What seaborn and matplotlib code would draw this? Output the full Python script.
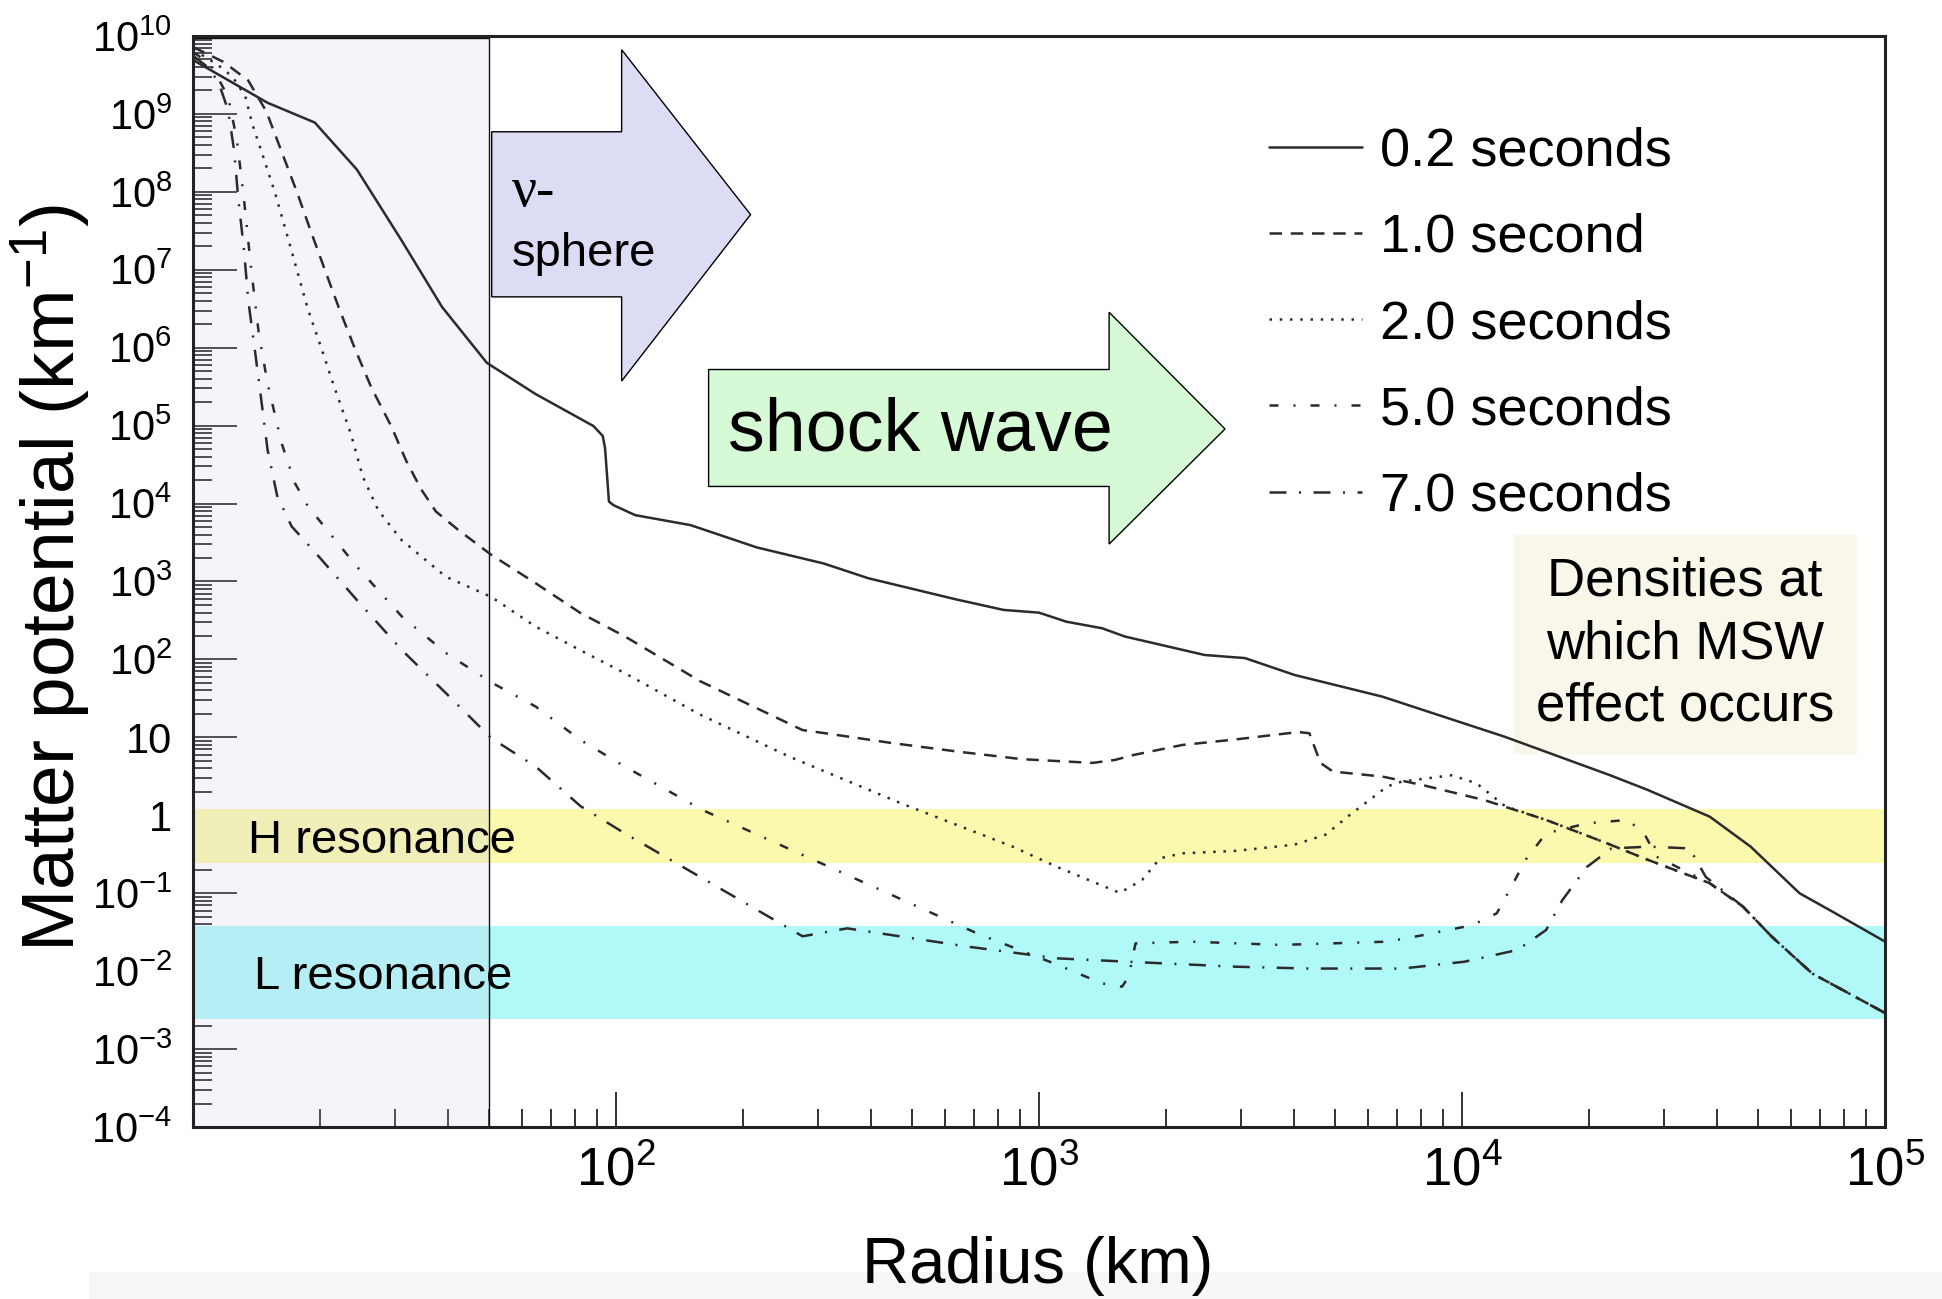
import numpy as np
import pandas as pd
import matplotlib
matplotlib.use('Agg')
import matplotlib.pyplot as plt
from matplotlib.patches import Polygon, Rectangle
from matplotlib.ticker import LogLocator, NullFormatter
import seaborn as sns

# values: radius (km) and matter potential (km^-1)
labels = ['0.2 seconds', '1.0 second', '2.0 seconds', '5.0 seconds', '7.0 seconds']

radius_02 = [10, 15.0, 19.4, 24.4, 31.1, 38.8, 49.5, 64.4, 88.4, 93.0, 94.2, 96.2, 98.7, 111, 150, 215,
             310, 395, 637, 824, 1000, 1160, 1410, 1594, 2463, 3067, 4017, 6480, 12600, 22400, 27500,
             38500, 48100, 62800, 75100, 100000]
pot_02 = [4.92e9, 1.39e9, 7.75e8, 1.93e8, 2.39e7, 3.32e6, 6.39e5, 2.56e5, 9.89e4, 7.38e4, 5.12e4, 1.06e4,
          9.51e3, 7.10e3, 5.29e3, 2.74e3, 1.70e3, 1.10e3, 589, 432, 398, 305, 251, 197, 114, 104, 63.2,
          33.3, 10.2, 3.26, 2.11, 0.96, 0.396, 0.0997, 0.058, 0.0239]

radius_10 = [10, 11.8, 13.5, 14.9, 16.3, 17.6, 19.0, 20.5, 22.2, 24.1, 26.4, 29.4, 31.9, 34.6, 37.5, 42.4,
             50.7, 64.6, 82.4, 105, 158, 276, 312, 449, 646, 911, 1338, 1511, 1672, 2182, 2925, 4099,
             4355, 4627, 4950, 6480, 8098, 11270, 15790, 22030, 27550, 38440, 46110, 53850, 67250, 100000]
pot_10 = [7.22e9, 4.65e9, 2.69e9, 1.08e9, 2.99e8, 9.98e7, 3.09e7, 9.95e6, 3.08e6, 9.92e5, 3.07e5, 9.89e4,
          3.55e4, 1.53e4, 7.92e3, 4.57e3, 2.20e3, 948, 394, 197, 52.6, 12.4, 11.3, 8.45, 6.54, 5.25, 4.70,
          5.13, 5.94, 7.99, 9.43, 11.7, 11.3, 4.70, 3.64, 3.14, 2.43, 1.57, 0.873, 0.436, 0.267, 0.135,
          0.0674, 0.0280, 0.00934, 0.0029]

radius_20 = [10, 11.4, 12.4, 13.3, 13.8, 14.6, 15.6, 16.6, 17.6, 18.7, 20.1, 21.6, 23.6, 25.2, 27.4, 31.1,
             39.6, 50.7, 64.6, 82.4, 105, 158, 257, 471, 866, 1104, 1552, 1752, 1932, 2182, 2925, 4017,
             4753, 5476, 6660, 7220, 9456, 10820, 12640, 15790, 22030, 27550, 38440, 46110, 53850, 67250,
             100000]
pot_20 = [6.71e9, 4.33e9, 3.00e9, 1.67e9, 7.47e8, 2.99e8, 9.98e7, 3.09e7, 9.95e6, 3.08e6, 9.92e5, 3.07e5,
          7.94e4, 2.21e4, 8.21e3, 3.41e3, 1.15e3, 634, 263, 131, 66.5, 19.6, 5.65, 1.43, 0.396, 0.217,
          0.101, 0.148, 0.281, 0.325, 0.350, 0.420, 0.563, 1.05, 2.35, 2.72, 3.26, 2.57, 1.31, 0.873,
          0.436, 0.267, 0.135, 0.0674, 0.0280, 0.00934, 0.0029]

radius_50 = [10, 11.0, 12.1, 12.7, 13.2, 13.7, 14.3, 15.0, 16.2, 17.4, 18.7, 24.4, 31.2, 39.7, 50.7, 64.6,
             82.4, 105, 160, 305, 713, 1104, 1408, 1571, 1629, 1690, 2290, 3724, 6660, 8086, 10570, 12080,
             13210, 14120, 15790, 19720, 24640, 26940, 28830, 38440, 46110, 53850, 67250, 100000]
pot_50 = [6.24e9, 4.33e9, 1.67e9, 4.64e8, 7.87e7, 1.11e7, 1.54e6, 3.50e5, 5.93e4, 1.84e4, 9.17e3, 1.55e3,
          353, 120, 50.7, 24.8, 9.25, 4.21, 1.17, 0.243, 0.0306, 0.0121, 0.00697, 0.00632, 0.00849, 0.0227,
          0.0239, 0.0217, 0.0239, 0.0290, 0.0389, 0.0553, 0.134, 0.267, 0.586, 0.788, 0.873, 0.586, 0.294,
          0.135, 0.0674, 0.0280, 0.00934, 0.0029]

radius_70 = [10, 10.9, 11.5, 12.1, 12.5, 12.8, 13.2, 13.5, 14.0, 14.5, 15.0, 15.8, 17.1, 19.2, 24.4, 31.2,
             39.7, 50.7, 64.6, 82.4, 105, 158, 276, 352, 680, 1104, 1627, 2925, 4325, 7220, 10120, 13520,
             15790, 17240, 19720, 22560, 27630, 34510, 37670, 46110, 53850, 67250, 100000]
pot_70 = [5.59e9, 3.88e9, 2.50e9, 1.12e9, 3.46e8, 7.87e7, 1.79e7, 4.13e6, 9.36e5, 2.13e5, 4.93e4, 1.27e4,
          5.10e3, 2.55e3, 578, 131, 36.5, 9.77, 4.21, 1.31, 0.584, 0.162, 0.0280, 0.0354, 0.0206, 0.0146,
          0.0132, 0.0114, 0.0108, 0.0108, 0.0132, 0.0187, 0.0336, 0.0809, 0.217, 0.376, 0.396, 0.376,
          0.162, 0.0674, 0.0280, 0.00934, 0.0029]

nu_sphere_radius = 50
h_band = (0.243, 1.21)
l_band = (0.0024, 0.0375)

xtick_vals = [1e2, 1e3, 1e4, 1e5]
xtick_labels = ['$10^{2}$', '$10^{3}$', '$10^{4}$', '$10^{5}$']
ytick_vals = [10.0 ** k for k in range(-4, 11)]
ytick_labels = ['$10^{-4}$', '$10^{-3}$', '$10^{-2}$', '$10^{-1}$', '1', '10', '$10^{2}$', '$10^{3}$',
                '$10^{4}$', '$10^{5}$', '$10^{6}$', '$10^{7}$', '$10^{8}$', '$10^{9}$', '$10^{10}$']

series = [(radius_02, pot_02), (radius_10, pot_10), (radius_20, pot_20),
          (radius_50, pot_50), (radius_70, pot_70)]
df = pd.concat([pd.DataFrame({'radius': r, 'potential': v, 'time': lab})
                for (r, v), lab in zip(series, labels)], ignore_index=True)

# ROOT-like line styles (units of line width)
dash_map = {
    '0.2 seconds': '',
    '1.0 second': (5, 3.5),
    '2.0 seconds': (1, 3.1),
    '5.0 seconds': (3.6, 6.0, 0.8, 6.0),
    '7.0 seconds': (6.8, 5.0, 0.8, 5.0),
}

sns.set_theme(style='ticks')
plt.rcParams['font.family'] = ['Liberation Sans', 'DejaVu Sans']
plt.rcParams['mathtext.fontset'] = 'custom'
plt.rcParams['mathtext.rm'] = 'Liberation Sans'
plt.rcParams['mathtext.it'] = 'Liberation Sans:italic'
plt.rcParams['mathtext.bf'] = 'Liberation Sans:bold'
plt.rcParams['text.color'] = 'black'
plt.rcParams['axes.labelcolor'] = 'black'
plt.rcParams['xtick.color'] = 'black'
plt.rcParams['ytick.color'] = 'black'

fig = plt.figure(figsize=(19.42, 12.99), dpi=100)
ax = fig.add_axes([0.0994, 0.1324, 0.8713, 0.8399])
ax.set_xscale('log')
ax.set_yscale('log')

# resonance bands and the neutrino-sphere region
ax.axhspan(*h_band, color='#fbf9ad', lw=0, zorder=1)
ax.axhspan(*l_band, color='#b1f8f8', lw=0, zorder=1)
ax.axvspan(10, nu_sphere_radius, ymax=0.998, facecolor='#c8c8e6', alpha=0.2, lw=0, zorder=1.5)
ax.axvspan(10, nu_sphere_radius, ymax=0.998, facecolor='none', edgecolor='#111111', lw=1.0, zorder=1.6)

sns.lineplot(data=df, x='radius', y='potential', style='time', style_order=labels,
             dashes=dash_map, color='#2b2b2b', linewidth=1.8, estimator=None, sort=False,
             ax=ax, zorder=3)

ax.set_xlim(10, 1e5)
ax.set_ylim(1e-4, 1e10)

ax.set_xticks(xtick_vals)
ax.set_xticklabels(xtick_labels)
ax.set_yticks(ytick_vals)
ax.set_yticklabels(ytick_labels)
ax.xaxis.set_minor_locator(LogLocator(base=10, subs=np.arange(2, 10), numticks=50))
ax.yaxis.set_minor_locator(LogLocator(base=10, subs=np.arange(2, 10), numticks=50))
ax.xaxis.set_minor_formatter(NullFormatter())
ax.yaxis.set_minor_formatter(NullFormatter())

ax.tick_params(axis='x', which='major', direction='in', length=25, width=1.3, labelsize=38, pad=14,
               color='#222222', labelcolor='black')
ax.tick_params(axis='x', which='minor', direction='in', length=13, width=1.3, color='#222222')
ax.tick_params(axis='y', which='major', direction='in', length=32, width=1.3, labelsize=30, pad=15,
               color='#222222', labelcolor='black')
ax.tick_params(axis='y', which='minor', direction='in', length=14, width=1.3, color='#222222')

for sp in ax.spines.values():
    sp.set_linewidth(2.2)
    sp.set_color('#222222')

ax.set_xlabel('Radius (km)', fontsize=47, color='black')
ax.xaxis.set_label_coords(0.499, -0.0997)
ax.set_ylabel('Matter potential (km$^{-1}$)', fontsize=54, color='black')
ax.yaxis.set_label_coords(-0.0593, 0.503)

# legend rebuilt in the ROOT layout
leg = ax.get_legend()
handles = leg.legend_handles
texts = [t.get_text() for t in leg.get_texts()]
ax.legend(handles, texts, loc='upper left', bbox_to_anchor=(0.636, 0.917), frameon=False,
          fontsize=39, handlelength=1.71, handletextpad=0.34, labelspacing=0.67,
          borderpad=0, borderaxespad=0, labelcolor='black')

# arrows
nu_arrow = [(0.1765, 0.9122), (0.2533, 0.9122), (0.2533, 0.9874), (0.3295, 0.8363),
            (0.2533, 0.6837), (0.2533, 0.7609), (0.1765, 0.7609)]
shock_arrow = [(0.3047, 0.6943), (0.5414, 0.6943), (0.5414, 0.7468), (0.6099, 0.6398),
               (0.5414, 0.5343), (0.5414, 0.5871), (0.3047, 0.5871)]
ax.add_patch(Polygon(nu_arrow, closed=True, transform=ax.transAxes, facecolor='#dcdcf5',
                     edgecolor='black', lw=1.0, zorder=4))
ax.add_patch(Polygon(shock_arrow, closed=True, transform=ax.transAxes, facecolor='#d5fad5',
                     edgecolor='black', lw=1.0, zorder=4))
ax.text(0.1883, 0.857, 'ν-', transform=ax.transAxes, fontsize=40, family=['Liberation Serif', 'DejaVu Serif'],
        ha='left', va='center', zorder=5)
ax.text(0.1883, 0.8003, 'sphere', transform=ax.transAxes, fontsize=34, ha='left', va='center', zorder=5)
ax.text(0.3163, 0.638, 'shock wave', transform=ax.transAxes, fontsize=53, ha='left', va='center', zorder=5)

# MSW note box
ax.add_patch(Rectangle((0.7804, 0.3417), 0.2028, 0.2009, transform=ax.transAxes,
                       facecolor='#f8f7e9', edgecolor='none', zorder=2))
ax.text(0.8818, 0.4427, 'Densities at\nwhich MSW\neffect occurs', transform=ax.transAxes,
        fontsize=38, ha='center', va='center', linespacing=1.32, zorder=5)

ax.text(0.0324, 0.2622, 'H resonance', transform=ax.transAxes, fontsize=34, ha='left', va='center', zorder=5)
ax.text(0.036, 0.1374, 'L resonance', transform=ax.transAxes, fontsize=34, ha='left', va='center', zorder=5)

# pale strip at the bottom edge of the original slide, kept under the axes
fig.patches.append(Rectangle((0.0458, 0), 0.9542, 0.0208, transform=fig.transFigure,
                             facecolor='#f7f7f7', edgecolor='none', zorder=-1))

fig.savefig('out.png', dpi=100)
